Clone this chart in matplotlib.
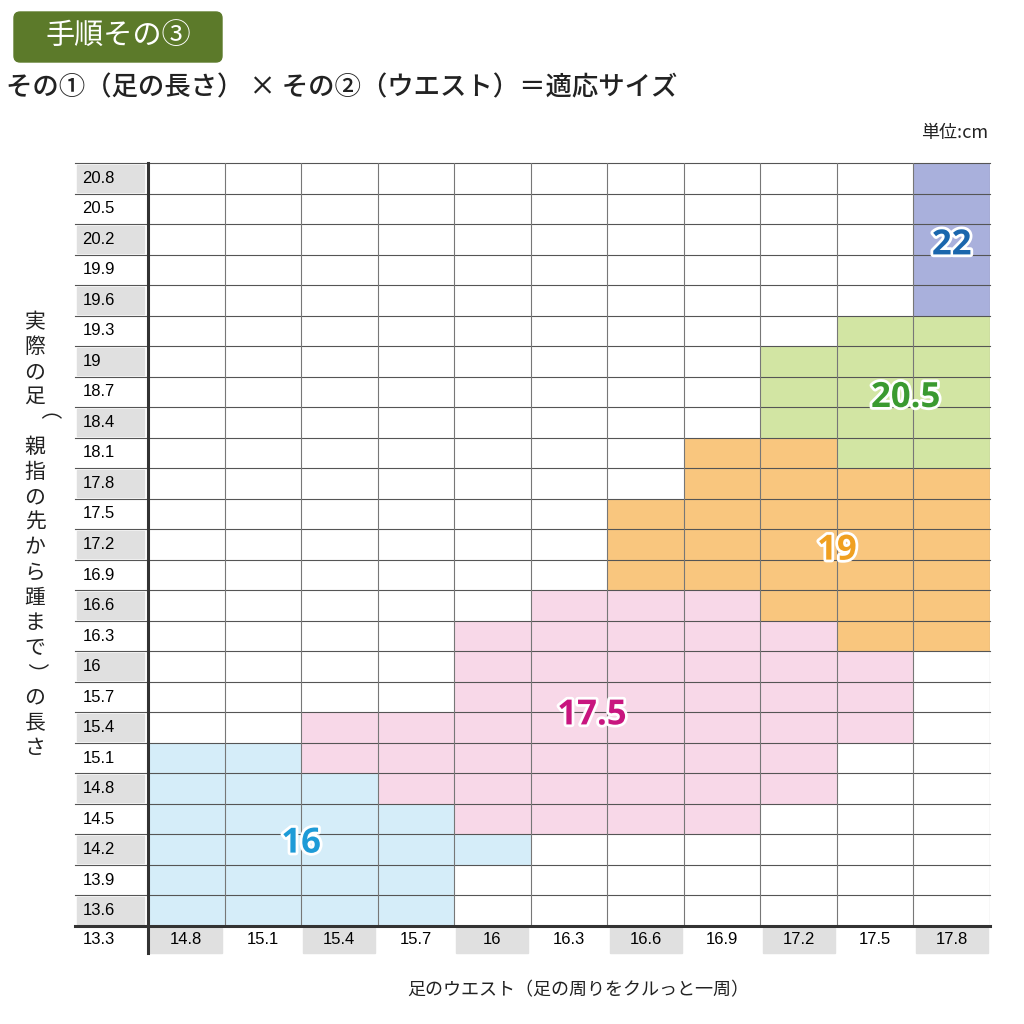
import matplotlib
matplotlib.use("Agg")
import matplotlib.pyplot as plt
from matplotlib.patches import FancyBboxPatch, Rectangle
import matplotlib.patheffects as pe

plt.rcParams["font.family"] = "Noto Sans CJK JP"

waist = [14.8, 15.1, 15.4, 15.7, 16, 16.3, 16.6, 16.9, 17.2, 17.5, 17.8]
length = [13.6, 13.9, 14.2, 14.5, 14.8, 15.1, 15.4, 15.7, 16, 16.3, 16.6, 16.9,
          17.2, 17.5, 17.8, 18.1, 18.4, 18.7, 19, 19.3, 19.6, 19.9, 20.2, 20.5, 20.8]
# size zones: (column index, first row index, last row index)
zone_16 = [(0, 0, 5), (1, 0, 5), (2, 0, 4), (3, 0, 3), (4, 2, 2)]
zone_175 = [(2, 5, 6), (3, 4, 6), (4, 3, 9), (5, 3, 10), (6, 3, 10), (7, 3, 10), (8, 4, 9), (9, 6, 8)]
zone_19 = [(6, 11, 13), (7, 11, 15), (8, 10, 15), (9, 9, 14), (10, 9, 14)]
zone_205 = [(8, 16, 18), (9, 15, 19), (10, 15, 19)]
zone_22 = [(10, 20, 24)]
zones = [("16", zone_16, "#d5edf9", "#1e9bd7", (2.0, 2.7)),
         ("17.5", zone_175, "#f8d8e8", "#c8157f", (5.8, 6.9)),
         ("19", zone_19, "#f9c67e", "#f0a020", (9.0, 12.3)),
         ("20.5", zone_205, "#d2e5a3", "#3a9a30", (9.9, 17.3)),
         ("22", zone_22, "#a9b0dc", "#1a66ad", (10.5, 22.3))]

fig = plt.figure(figsize=(10.24, 10.24), dpi=100)
W = H = 1024
ax = fig.add_axes([148 / W, (H - 926) / H, (990 - 148) / W, (926 - 163) / H])
nc, nr = len(waist), len(length)
ax.set_xlim(0, nc); ax.set_ylim(0, nr)
ax.axis("off")

for label, cells, fc, tc, pos in zones:
    for c, r0, r1 in cells:
        ax.bar(c + 0.5, r1 - r0 + 1, bottom=r0, width=1, color=fc, linewidth=0, zorder=1)
    t = ax.text(pos[0], pos[1], label, color=tc, fontsize=25, fontweight="bold",
                ha="center", va="center", family="Open Sans", zorder=5)
    t.set_path_effects([pe.withStroke(linewidth=4, foreground="white")])

lab_w = 73 / (990 - 148) * nc
for i in range(nr + 1):
    ax.plot([-lab_w, nc], [i, i], color="#555555", lw=0.8, clip_on=False, zorder=3)
for j in range(nc + 1):
    ax.plot([j, j], [0, nr], color="#777777", lw=0.8, zorder=3)
ax.plot([0, 0], [-0.9, nr], color="#333333", lw=2.2, clip_on=False, zorder=4)
ax.plot([-lab_w, nc], [0, 0], color="#333333", lw=2.2, clip_on=False, zorder=4)

for i, v in enumerate(length):
    if i % 2 == 0:
        ax.add_patch(Rectangle((-lab_w * 0.97, i + 0.05), lab_w * 0.92, 0.9, color="#e0e0e0",
                               clip_on=False, zorder=2))
    ax.text(-lab_w * 0.9, i + 0.5, f"{v:g}", ha="left", va="center", fontsize=12,
            family="Liberation Sans", clip_on=False)
for j, v in enumerate(waist):
    if j % 2 == 0:
        ax.add_patch(Rectangle((j + 0.03, -0.9), 0.94, 0.85, color="#e0e0e0", clip_on=False, zorder=2))
    ax.text(j + 0.5, -0.45, f"{v:g}", ha="center", va="center", fontsize=12,
            family="Liberation Sans", clip_on=False)
ax.text(-lab_w * 0.9, -0.45, "13.3", ha="left", va="center", fontsize=12,
        family="Liberation Sans", clip_on=False)

# titles
fig.patches.append(FancyBboxPatch((14 / W, 1 - 62 / H), 208 / W, 50 / H,
                                  boxstyle="round,pad=0,rounding_size=0.006",
                                  transform=fig.transFigure, color="#5c7a2a"))
fig.text(118 / W, 1 - 37 / H, "手順その③", color="white", fontsize=21, ha="center", va="center")
fig.text(6 / W, 1 - 88 / H, "その①（足の長さ） × その②（ウエスト）＝適応サイズ",
         fontsize=19, ha="left", va="center", color="#222222", fontweight="medium")
fig.text(988 / W, 1 - 133 / H, "単位:cm", fontsize=13, ha="right", va="center", color="#222222")
ylab = "実際の足（親指の先から踵まで）の長さ"
y0, y1 = 322, 748
step = (y1 - y0) / (len(ylab) - 1)
for k, ch in enumerate(ylab):
    rot = 270 if ch in "（）" else 0
    fig.text(35 / W, 1 - (y0 + k * step) / H, ch, fontsize=15, ha="center", va="center",
             rotation=rot, color="#222222")
fig.text(578 / W, 1 - 990 / H, "足のウエスト（足の周りをクルっと一周）", fontsize=13,
         ha="center", va="center", color="#222222")

fig.savefig("out.png", dpi=100, facecolor="white")
